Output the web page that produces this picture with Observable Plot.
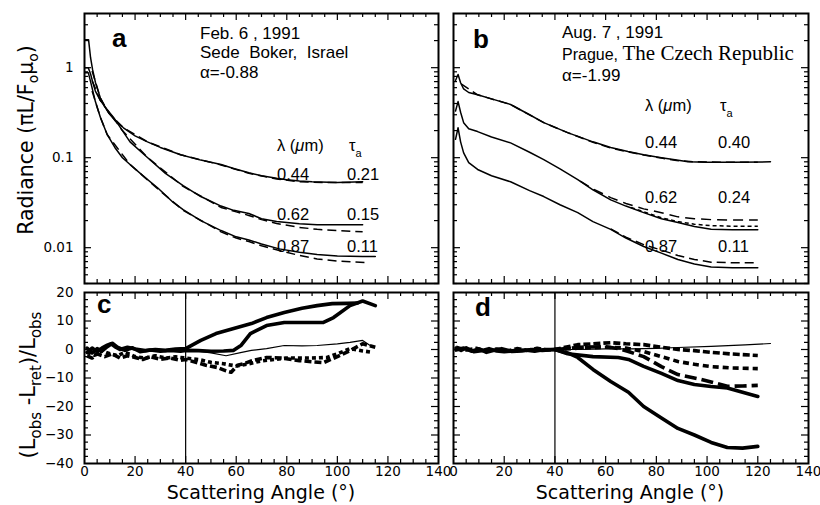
<!DOCTYPE html>
<html><head><meta charset="utf-8">
<script src="https://cdn.jsdelivr.net/npm/d3@7"></script>
<script src="https://cdn.jsdelivr.net/npm/@observablehq/plot@0.6"></script>
<style>
body{margin:0;background:#fff;}
#wrap{position:relative;width:820px;height:505px;overflow:hidden;background:#fff;}
</style></head><body><div id="wrap"></div>
<script>
// ---------- DATA ----------
// Panel a : Sede Boker (radiance, log scale)
const angA044 = [0,1.6,2.4,3.2,4.3,5.3,6.3,8,9.5,12,15.4,20,24.9,30,38,46,54,59,65,70,76,80,85,90,100,110];
const radA044 = [2.05,2.05,1.29,0.95,0.69,0.56,0.46,0.37,0.316,0.26,0.215,0.175,0.150,0.130,0.108,0.094,0.084,0.076,0.068,0.063,0.059,0.057,0.055,0.054,0.053,0.054];
const angA044r = [3,6.3,9.5,15.4,24.9,38,54,65,76,85,95,105,110];
const radA044r = [0.92,0.46,0.316,0.215,0.150,0.108,0.083,0.067,0.058,0.054,0.053,0.053,0.053];
const angA062 = [0,1.5,2.4,3.2,4.3,6.3,9,11.5,15,18,25,32,39,46,54,59,65,70,76,85,92,100,110];
const radA062 = [1.0,1.0,0.85,0.70,0.55,0.43,0.34,0.28,0.20,0.15,0.10,0.067,0.049,0.037,0.029,0.026,0.024,0.021,0.0195,0.0185,0.018,0.018,0.018];
const angA062r = [3,6.3,9,15,25,39,54,60,65,70,76,85,92,100,110];
const radA062r = [0.72,0.43,0.34,0.20,0.10,0.048,0.028,0.025,0.0228,0.0205,0.0186,0.0168,0.016,0.0155,0.015];
const angA087 = [0,1.5,2.4,4.3,6.3,9,12,15,18,24,29,35,39,46,54,60,65,70,77,85,92,100,110,115];
const radA087 = [0.88,0.88,0.70,0.42,0.28,0.18,0.13,0.10,0.084,0.060,0.046,0.032,0.0265,0.020,0.0155,0.0132,0.0122,0.0110,0.0097,0.0089,0.0084,0.0081,0.0080,0.0080];
const angA087r = [3,6.3,9,18,29,39,54,60,65,70,77,85,92,100,112];
const radA087r = [0.55,0.28,0.18,0.084,0.045,0.026,0.015,0.0128,0.0117,0.0105,0.0093,0.0082,0.0075,0.0071,0.0068];

// Panel b : Prague
const angB044 = [0.8,1.8,2.8,4,6,9.5,15,22.5,30,35.6,45,55,62,68.8,75,82,88,92.5,100,110,125];
const radB044 = [0.72,0.84,0.68,0.58,0.53,0.50,0.45,0.39,0.30,0.245,0.19,0.15,0.13,0.117,0.108,0.100,0.094,0.090,0.089,0.089,0.090];
const angB044r = [3,9.5,22.5,35.6,45,55,62,68.8,75,82,88,95,105,120];
const radB044r = [0.66,0.50,0.39,0.245,0.19,0.148,0.128,0.116,0.107,0.099,0.093,0.090,0.089,0.089];
const angB062 = [0.8,1.8,2.8,4,6,9.5,15,22.5,30,35.6,42,49,55,62,68,75,82,88.5,95,101.6,110,120];
const radB062 = [0.33,0.42,0.32,0.245,0.21,0.195,0.17,0.146,0.115,0.095,0.075,0.057,0.044,0.034,0.029,0.0245,0.021,0.019,0.0172,0.016,0.0158,0.0158];
const angB062r1 = [50,55,62,68,75,82,88.5,95,101.6,110,120];
const radB062r1 = [0.055,0.045,0.036,0.031,0.027,0.0245,0.022,0.021,0.0205,0.0203,0.0203];
const angB062r2 = [70,75,82,88.5,95,101.6,110,120];
const radB062r2 = [0.028,0.025,0.0215,0.0195,0.0182,0.0176,0.0173,0.0173];
const angB087 = [0.8,1.8,2.8,4,6,9.5,15,22.5,30,35.6,42,49,55,62,68,75,82,88.5,95,101.6,110,120];
const radB087 = [0.16,0.215,0.15,0.113,0.088,0.074,0.063,0.054,0.043,0.037,0.030,0.0245,0.0195,0.016,0.0128,0.0103,0.0087,0.0074,0.0066,0.0061,0.0060,0.0060];
const angB087r = [62,68,75,82,88.5,95,101.6,110,120];
const radB087r = [0.0162,0.0131,0.0108,0.0094,0.0082,0.0074,0.0069,0.0068,0.0068];

// Panel c : relative difference (%), Sede Boker
const angC1 = [1,3,5,7,9,10.5,12,14,17,20,24,28,32,36,40,46,52,59,66,72,79,86,92,98,104,108];
const valC1 = [-1,0.5,-0.8,0.6,1.5,2,1,0,0.8,0.2,-0.4,0,-0.3,0.2,0.3,3.2,5.6,7.4,9.1,11.2,13,14.5,15.4,16.1,16.2,16.3];
const angC2 = [1,3,5,7,9,11,13,16,19,22,26,30,34,38,40,45,50,55,59,62,65.6,72,79,86,94.5,98.5,105,110,115];
const valC2 = [0.5,-1.2,0.3,-0.5,1,2.2,0.8,-0.3,0.6,-0.8,-0.2,-0.6,-0.3,-0.6,-0.3,-0.4,-0.6,-0.5,-0.3,1.5,5.6,8.4,9.5,9.5,9.5,11.2,15.4,17,15.4];
const angC3 = [40,50,56,61.7,66,72,79,86,92,100,105,110,114];
const valC3 = [0,-1.2,-2.2,-1.1,-0.3,0.3,1.4,1.3,1.4,2,2.5,3.2,0.8];
const angC4 = [1,3,5,8,11,14,17,20,23,26,30,34,38,40,44,48,52.5,56,58,60.5,63,66,72,78,85,90,94.5,100,105,110,115];
const valC4 = [-2.2,-3,-1.5,-2.5,-1.5,-3,-2.2,-2.8,-3.5,-2.5,-3.4,-3,-3.8,-3.5,-4.5,-5.5,-6.3,-7.5,-8,-5.5,-5,-4,-2.8,-3,-3.9,-4.3,-4.6,-2.5,-0.4,2,0.8];
const angC5 = [1,4,7,10,13,16,20,24,28,32,36,40,45,50,55,60,65,70,75,80,85,90,96,100,105,110,114];
const valC5 = [-1,-2,-0.5,-1.5,-2.2,-1,-2.5,-3,-2.2,-3,-2.6,-3,-3.5,-4.5,-5,-5.8,-5,-4,-3.5,-3,-3,-3,-2.8,-1.5,0.3,-0.5,-1];

// Panel d : relative difference (%), Prague
const angD1 = [1,3,5,8,11,14,17,20,24,28,32,36,40,45,49,55,62,69,75,82,88.5,95,101.6,108,114,120];
const valD1 = [0.5,-0.3,0.6,-0.8,-0.4,0.3,-0.5,-0.8,-0.4,-0.2,-0.6,0,0,-1.2,-2.8,-7,-11.2,-15,-20,-24,-27.7,-30,-32.6,-34.4,-34.6,-34];
const angD2 = [1,4,7,10,13,16,19,23,27,31,35,40,45,55,65,69,75,82,88.5,95,101.6,108,114,120];
const valD2 = [-0.2,0.5,-0.6,0.2,-1,-0.3,0.3,-0.7,-0.5,0,-0.3,0,-1.5,-2.5,-2.8,-3.5,-5.9,-8.4,-10.9,-12.3,-13,-13.5,-15,-16.5];
const angD3 = [40,50,60,65,69,75,82,88.5,97.6,108,114,120];
const valD3 = [0,0.8,1,0.3,-0.7,-2.5,-6,-8.8,-10.5,-12.9,-12.8,-12.6];
const angD4 = [40,50,60,68,75,82,88.5,95,101.6,110,120];
const valD4 = [0,0.5,0.8,0.5,-0.7,-2.5,-4.2,-5.2,-6,-6.5,-6.7];
const angD5 = [40,50,60,70,80,88.5,101.6,115,125];
const valD5 = [0,0,0.2,0.2,0.4,0.7,1.1,1.6,2.1];
const angD6 = [1,5,9,13,17,21,25,29,33,37,40,49,55,62,68,75,82,88.5,95,101.6,110,120];
const valD6 = [0.8,-0.2,0.4,-0.5,0.2,-0.6,0.3,-0.3,0.4,-0.2,0,1.7,2,2.4,2,1.7,0.8,0,-0.4,-1,-1.6,-2.1];

// Ticks and labels
const xLabelTicks = [0,20,40,60,80,100,120,140];
const xMajor = [20,40,60,80,100,120];
const xMinor = [5,10,15,25,30,35,45,50,55,65,70,75,85,90,95,105,110,115,125,130,135];
const logMajor = [0.01,0.1,1];
const logLabels = ["0.01","0.1","1"];
const linLabelTicks = [-40,-30,-20,-10,0,10,20];
const linMajor = [-30,-20,-10,0,10];
const panelNames = ["a","b","c","d"];
const infoA = ["Feb. 6 , 1991","Sede  Boker,  Israel","α=-0.88"];
const infoB = ["Aug. 7 , 1991","Prague, ","The Czech Republic","α=-1.99"];
const wavelengths = ["0.44","0.62","0.87"];
const tauA = ["0.21","0.15","0.11"];
const tauB = ["0.40","0.24","0.11"];
const xTitle = "Scattering Angle (°)";

// ---------- DRAWING ----------
const wrap = document.getElementById("wrap");
const FONT = "'Liberation Sans', Arial, Helvetica, sans-serif";
const AXFONT = "'DejaVu Sans', Verdana, sans-serif";
const zip = (xs, ys) => xs.map((x, i) => ({x, y: ys[i]}));

const logMinor = [];
[0.001,0.01,0.1,1].forEach(b => { for (let k = 2; k <= 9; k++) { const v = +(b*k).toPrecision(3); if (v >= 0.004 && v < 4) logMinor.push(v); } });
const linMinor = d3.range(-37.5, 20, 2.5).filter(v => v % 10 !== 0);

function panel(o) {
  const fw = o.width - o.ml - o.mr, fh = o.height - o.mt - o.mb;
  const TL = 7, TS = 4;
  const marks = [];
  if (o.rule) marks.push(Plot.ruleX([40], {stroke: "black", strokeWidth: 1.2}));
  for (const s of o.lines) {
    marks.push(Plot.line(zip(s.x, s.y), {x: "x", y: "y", stroke: "black", strokeWidth: s.w,
      strokeDasharray: s.dash, strokeLinecap: s.dash ? "butt" : "round", strokeLinejoin: "round", clip: true}));
  }
  const tick = (vals, len, side) => {
    if (side === "b") return Plot.tickX(vals, {x: d => d, insetTop: fh - len, strokeWidth: 1.2});
    if (side === "t") return Plot.tickX(vals, {x: d => d, insetBottom: fh - len, strokeWidth: 1.2});
    if (side === "l") return Plot.tickY(vals, {y: d => d, insetRight: fw - len, strokeWidth: 1.2});
    return Plot.tickY(vals, {y: d => d, insetLeft: fw - len, strokeWidth: 1.2});
  };
  marks.push(tick(xMajor, TL, "b"), tick(xMajor, TL, "t"), tick(xMinor, TS, "b"), tick(xMinor, TS, "t"));
  marks.push(tick(o.yMajor, TL, "l"), tick(o.yMajor, TL, "r"), tick(o.yMinor, TS, "l"), tick(o.yMinor, TS, "r"));
  marks.push(Plot.frame({stroke: "black", strokeWidth: 2}));
  if (o.xTicks) marks.push(Plot.axisX({ticks: o.xTicks, tickSize: 0, tickPadding: 3, label: null, fontSize: 13.5, fontFamily: AXFONT}));
  if (o.yTicks) marks.push(Plot.axisY({ticks: o.yTicks, tickSize: 0, tickPadding: 11, label: null, tickFormat: o.yFmt, fontSize: 13.5, fontFamily: AXFONT}));
  const p = Plot.plot({
    width: o.width, height: o.height,
    marginLeft: o.ml, marginRight: o.mr, marginTop: o.mt, marginBottom: o.mb,
    x: {domain: [0, 140], axis: o.xTicks ? undefined : null},
    y: Object.assign({}, o.y, {axis: o.yTicks ? undefined : null}),
    marks
  });
  p.style.position = "absolute"; p.style.left = o.left + "px"; p.style.top = o.top + "px";
  p.style.background = "transparent"; p.style.overflow = "visible"; p.style.maxWidth = "none";
  wrap.appendChild(p);
}

const thin = 1.5, thick = 3.6;
const logY = {type: "log", domain: [0.004, 4]};
const linY = {type: "linear", domain: [-40, 20]};

panel({left: 0, top: 0, width: 445, height: 290, ml: 84, mr: 7, mt: 13, mb: 7,
  y: logY, yMajor: logMajor, yMinor: logMinor, yTicks: logMajor, yFmt: (d) => logLabels[logMajor.indexOf(d)],
  lines: [
    {x: angA044, y: radA044, w: thin}, {x: angA044r, y: radA044r, w: thin, dash: "9,5"},
    {x: angA062, y: radA062, w: thin}, {x: angA062r, y: radA062r, w: thin, dash: "9,5"},
    {x: angA087, y: radA087, w: thin}, {x: angA087r, y: radA087r, w: thin, dash: "9,5"}
  ]});
panel({left: 445, top: 0, width: 375, height: 290, ml: 8, mr: 12, mt: 13, mb: 7,
  y: logY, yMajor: logMajor, yMinor: logMinor,
  lines: [
    {x: angB044, y: radB044, w: thin}, {x: angB044r, y: radB044r, w: thin, dash: "9,5"},
    {x: angB062, y: radB062, w: thin}, {x: angB062r1, y: radB062r1, w: thin, dash: "10,6"}, {x: angB062r2, y: radB062r2, w: thin, dash: "4,3"},
    {x: angB087, y: radB087, w: thin}, {x: angB087r, y: radB087r, w: thin, dash: "9,5"}
  ]});
panel({left: 0, top: 285, width: 452, height: 220, ml: 84, mr: 14, mt: 7, mb: 42,
  y: linY, yMajor: linMajor, yMinor: linMinor, yTicks: linLabelTicks, xTicks: xLabelTicks, rule: true,
  lines: [
    {x: angC4, y: valC4, w: thick, dash: "7,3"}, {x: angC5, y: valC5, w: thick, dash: "4,3"},
    {x: angC3, y: valC3, w: 1.2},
    {x: angC1, y: valC1, w: thick}, {x: angC2, y: valC2, w: thick}
  ]});
panel({left: 445, top: 285, width: 375, height: 220, ml: 8, mr: 12, mt: 7, mb: 42,
  y: linY, yMajor: linMajor, yMinor: linMinor, xTicks: xLabelTicks, rule: true,
  lines: [
    {x: angD6, y: valD6, w: thick, dash: "7,3"}, {x: angD3, y: valD3, w: thick, dash: "12,5"},
    {x: angD4, y: valD4, w: thick, dash: "6,4"}, {x: angD5, y: valD5, w: 1.2},
    {x: angD1, y: valD1, w: thick}, {x: angD2, y: valD2, w: thick}
  ]});

// ---------- TEXT OVERLAY ----------
const svg = d3.select(wrap).append("svg").attr("width", 820).attr("height", 505)
  .style("position", "absolute").style("left", "0px").style("top", "0px").style("overflow", "visible");

function txt(x, y, segs, o = {}) {
  const t = svg.append("text").attr("x", x).attr("y", y)
    .attr("font-family", o.family || FONT).attr("font-size", o.size || 17)
    .attr("font-weight", o.weight || "normal").attr("text-anchor", o.anchor || "start").attr("fill", "black")
    .style("white-space", "pre");
  if (o.rotate) t.attr("transform", `rotate(-90 ${x} ${y})`);
  for (const s of (typeof segs === "string" ? [{t: segs}] : segs)) {
    const ts = t.append("tspan").text(s.t);
    if (s.size) ts.attr("font-size", s.size);
    if (s.dy) ts.attr("dy", s.dy);
    if (s.family) ts.attr("font-family", s.family);
    if (s.italic) ts.attr("font-style", "italic");
  }
  return t;
}

// panel letters
txt(112, 47, panelNames[0], {size: 26, weight: "bold"});
txt(473, 48, panelNames[1], {size: 26, weight: "bold"});
txt(97, 313, panelNames[2], {size: 26, weight: "bold"});
txt(475, 316, panelNames[3], {size: 26, weight: "bold"});

// site info
txt(200, 39, infoA[0]); txt(200, 58, infoA[1]); txt(200, 78, infoA[2]);
txt(562, 38, infoB[0]);
txt(562, 60, [{t: infoB[1], size: 16}, {t: infoB[2], size: 21, family: "'Liberation Serif', 'Times New Roman', serif"}]);
txt(562, 81, infoB[3]);

// wavelength / optical depth tables
function table(xl, xt, yHead, ys, taus) {
  txt(xl, yHead, [{t: "λ ("}, {t: "μ", italic: true}, {t: "m)"}], {size: 16.5});
  txt(xt + 2, yHead, [{t: "τ"}, {t: "a", size: 11, dy: 6}], {size: 16.5});
  ys.forEach((y, i) => { txt(xl, y, wavelengths[i], {size: 16.5}); txt(xt, y, taus[i], {size: 16.5}); });
}
table(277, 347, 151, [180, 220, 252], tauA);
table(645, 718, 111, [148, 203, 252], tauB);

// axis titles
txt(261, 499, xTitle, {family: AXFONT, size: 19, anchor: "middle"});
txt(630, 499, xTitle, {family: AXFONT, size: 19, anchor: "middle"});
txt(33, 140, [{t: "Radiance (πL/F"}, {t: "o", size: 14, dy: 5}, {t: "μ", dy: -5}, {t: "o", size: 14, dy: 5}, {t: ")", dy: -5}],
  {family: AXFONT, size: 20.5, anchor: "middle", rotate: true});
txt(35, 385, [{t: "(L"}, {t: "obs", size: 15, dy: 6}, {t: " -L", dy: -6}, {t: "ret", size: 15, dy: 6}, {t: ")/L", dy: -6}, {t: "obs", size: 15, dy: 6}],
  {family: AXFONT, size: 21, anchor: "middle", rotate: true});
</script></body></html>
